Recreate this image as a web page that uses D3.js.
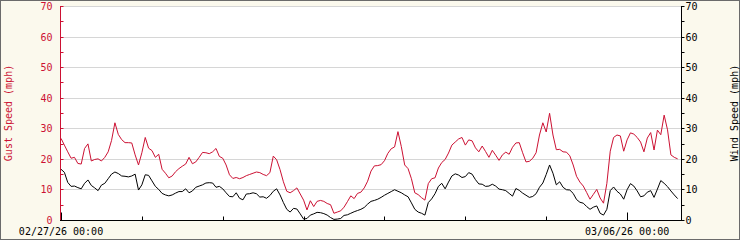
<!DOCTYPE html>
<html>
<head>
<meta charset="utf-8">
<script src="https://cdn.jsdelivr.net/npm/d3@7"></script>
<style>
    html, body { margin: 0; padding: 0; background: #fbf9ed; }
    #chart { width: 740px; height: 240px; }
    text { font-family: "DejaVu Sans Mono", monospace; font-size: 10px; }
</style>
</head>
<body>
<div id="chart"></div>
<script>
/**
 * Gust / wind speed chart, hourly samples from 02/27/26 00:00
 */

// First sample of the series
var startTime = new Date(2026, 1, 27, 0, 0);
// Hours shown on the time axis
var spanHours = 184;

// Gust speed (mph), one value per hour
var gustSpeed = [
    26.7, 24.5, 22.3, 20.2, 20.5, 18.5, 18.3, 23.4, 24.9, 19.3, 19.8, 20.0,
    19.3, 20.5, 22.3, 26.0, 31.8, 28.0, 26.3, 25.3, 25.3, 25.2, 21.3, 18.0,
    22.0, 27.0, 23.5, 22.7, 20.5, 21.5, 16.6, 15.3, 13.8, 14.4, 15.8, 16.8,
    17.6, 18.3, 20.5, 18.4, 19.0, 20.5, 22.1, 22.0, 21.7, 22.3, 23.4, 20.8,
    20.2, 18.0, 14.8, 13.6, 13.9, 13.5, 13.9, 14.5, 14.9, 15.3, 15.7, 15.5,
    14.9, 14.5, 15.5, 20.9, 19.7, 16.5, 12.5, 9.4, 8.9, 9.6, 10.5, 8.5,
    6.5, 3.3, 6.3, 4.4, 6.1, 6.4, 6.1, 5.4, 5.0, 2.2, 2.6, 3.0,
    4.2, 6.0, 7.9, 7.0, 8.7, 9.1, 10.5, 12.7, 16.0, 17.7, 17.8, 18.1,
    19.4, 21.8, 23.3, 23.9, 28.9, 24.0, 18.0, 16.8, 13.5, 8.9, 8.3, 7.3,
    6.5, 11.9, 13.5, 13.8, 17.0, 18.8, 19.8, 21.9, 24.5, 25.5, 26.5, 27.0,
    24.5, 26.2, 25.9, 23.6, 22.3, 24.2, 22.4, 20.5, 22.8, 21.2, 19.5, 21.3,
    22.2, 21.5, 23.8, 25.2, 25.3, 22.0, 19.0, 19.2, 20.2, 22.0, 27.8, 31.8,
    28.8, 34.9, 27.8, 23.0, 23.1, 22.3, 22.2, 21.0, 18.0, 14.3, 12.4, 11.1,
    9.0, 6.8, 8.4, 10.0, 7.2, 5.5, 12.0, 22.5, 27.0, 27.8, 27.5, 22.5,
    26.2, 28.5, 28.1, 27.0, 25.5, 22.3, 26.8, 28.6, 22.9, 29.4, 27.9, 34.3,
    29.5, 21.3, 20.5, 20.0
];

// Wind speed (mph), one value per hour
var windSpeed = [
    16.6, 15.6, 12.3, 11.0, 11.1, 10.6, 10.2, 12.0, 13.1, 11.3, 10.5, 9.6,
    11.4, 12.0, 13.5, 15.0, 15.7, 15.2, 14.4, 14.3, 14.1, 14.4, 15.0, 9.8,
    11.5, 14.8, 14.6, 12.8, 11.0, 10.0, 8.7, 8.2, 7.9, 8.2, 8.8, 9.3,
    9.3, 10.2, 8.9, 9.5, 10.7, 11.1, 11.5, 12.1, 12.2, 12.1, 10.7, 11.0,
    10.2, 8.9, 7.7, 7.6, 8.9, 7.1, 6.6, 8.5, 8.6, 8.9, 8.6, 7.5,
    7.6, 7.1, 8.0, 9.4, 10.2, 8.2, 5.7, 3.5, 2.6, 3.8, 3.6, 2.0,
    0.3, 0.5, 1.6, 2.0, 2.5, 2.4, 2.1, 1.6, 0.8, 0.2, 0.3, 0.5,
    1.5, 1.7, 2.2, 2.7, 3.1, 3.5, 4.1, 5.2, 6.1, 6.4, 6.8, 7.4,
    8.1, 8.7, 9.3, 9.9, 9.4, 8.9, 8.2, 7.6, 5.6, 3.5, 2.6, 2.2,
    1.6, 5.7, 6.9, 8.6, 11.0, 12.0, 10.2, 12.4, 14.4, 15.1, 14.7, 13.9,
    14.2, 15.5, 15.0, 13.2, 11.8, 11.7, 11.0, 11.1, 11.7, 11.1, 10.1, 9.9,
    9.6, 8.7, 7.8, 10.3, 9.7, 8.8, 8.1, 7.4, 7.7, 8.6, 10.7, 12.1,
    14.9, 18.0, 15.3, 11.5, 12.5, 10.7, 9.9, 9.8, 8.7, 6.7, 5.8, 5.5,
    4.4, 3.5, 4.2, 4.6, 2.2, 1.6, 3.5, 9.6, 10.8, 9.4, 8.5, 6.8,
    9.9, 11.9, 11.1, 9.5, 7.6, 7.9, 9.1, 9.6, 7.4, 10.1, 12.9, 12.0,
    10.9, 9.5, 8.2, 7.0
];

// Speed axis ticks (both axes share them)
var speedTicks = [0, 10, 20, 30, 40, 50, 60, 70];
var speedMinorTicks = [5, 15, 25, 35, 45, 55, 65];

// Axis titles
var leftTitle = "Gust Speed (mph)";
var rightTitle = "Wind Speed (mph)";

var windChart = function () {

    var exports = {},
        width = 740,
        height = 240,
        margin = { top: 6, right: 59, bottom: 20, left: 61 },
        plotWidth = width - margin.left - margin.right,
        plotHeight = height - margin.top - margin.bottom,
        // red for gusts, black for wind
        gustColour = '#cc1133',
        windColour = '#000000',
        gridColour = '#d6d6d6',
        pageColour = '#fbf9ed',
        svg = null;

    exports.draw = function () {

        var x = d3.scaleTime()
            .domain([startTime, d3.timeHour.offset(startTime, spanHours)])
            .range([0, plotWidth]);
        var yGust = d3.scaleLinear().domain([0, 70]).range([plotHeight, 0]);
        var yWind = d3.scaleLinear().domain([0, 70]).range([plotHeight, 0]);

        var timeOf = function (i) { return d3.timeHour.offset(startTime, i); };

        var root = d3.select("#chart").append("svg")
            .attr("width", width)
            .attr("height", height);

        // page background and frame
        root.append("rect")
            .attr("x", 0.5).attr("y", 0.5)
            .attr("width", width - 1).attr("height", height - 1)
            .style("fill", pageColour)
            .style("stroke", "#6b6b6b");

        svg = root.append("g")
            .attr("transform", "translate(" + margin.left + "," + margin.top + ")");

        // plot area
        svg.append("rect")
            .attr("width", plotWidth)
            .attr("height", plotHeight)
            .style("fill", "#ffffff");

        // horizontal grid
        svg.selectAll("line.grid")
            .data(speedTicks.slice(1))
            .enter().append("line")
            .attr("class", "grid")
            .attr("x1", 0).attr("x2", plotWidth)
            .attr("y1", function (d) { return Math.round(yGust(d)) + 0.5; })
            .attr("y2", function (d) { return Math.round(yGust(d)) + 0.5; })
            .style("stroke", gridColour)
            .style("shape-rendering", "crispEdges");

        // series lines
        var gustLine = d3.line()
            .x(function (d, i) { return x(timeOf(i)); })
            .y(function (d) { return yGust(d); });
        var windLine = d3.line()
            .x(function (d, i) { return x(timeOf(i)); })
            .y(function (d) { return yWind(d); });

        svg.append("path")
            .datum(gustSpeed)
            .attr("d", gustLine)
            .style("fill", "none")
            .style("stroke", gustColour)
            .style("stroke-width", 1);

        svg.append("path")
            .datum(windSpeed)
            .attr("d", windLine)
            .style("fill", "none")
            .style("stroke", windColour)
            .style("stroke-width", 1);

        // left (gust) axis
        var left = svg.append("g").attr("transform", "translate(-0.5,0)");
        left.append("line")
            .attr("x1", 0).attr("x2", 0)
            .attr("y1", 0).attr("y2", plotHeight)
            .style("stroke", gustColour);
        left.selectAll("line.minor")
            .data(speedMinorTicks.concat(speedTicks))
            .enter().append("line")
            .attr("x1", 0).attr("x2", 3)
            .attr("y1", function (d) { return Math.round(yGust(d)) + 0.5; })
            .attr("y2", function (d) { return Math.round(yGust(d)) + 0.5; })
            .style("stroke", gustColour);
        left.selectAll("text")
            .data(speedTicks)
            .enter().append("text")
            .attr("x", -8)
            .attr("y", function (d) { return yGust(d) + 4; })
            .attr("text-anchor", "end")
            .style("fill", gustColour)
            .text(function (d) { return d; });

        // right (wind) axis
        var right = svg.append("g").attr("transform", "translate(" + (plotWidth + 0.5) + ",0)");
        right.append("line")
            .attr("x1", 0).attr("x2", 0)
            .attr("y1", 0).attr("y2", plotHeight)
            .style("stroke", windColour);
        right.selectAll("line.minor")
            .data(speedMinorTicks.concat(speedTicks))
            .enter().append("line")
            .attr("x1", 0).attr("x2", 3)
            .attr("y1", function (d) { return Math.round(yWind(d)) + 0.5; })
            .attr("y2", function (d) { return Math.round(yWind(d)) + 0.5; })
            .style("stroke", windColour);
        right.selectAll("text")
            .data(speedTicks)
            .enter().append("text")
            .attr("x", 4)
            .attr("y", function (d) { return yWind(d) + 4; })
            .style("fill", windColour)
            .text(function (d) { return d; });

        // bottom time axis, labelled at the first and the last day tick
        var days = x.ticks(d3.timeDay.every(1));
        var fmt = d3.timeFormat("%m/%d/%y %H:%M");
        var bottom = svg.append("g").attr("transform", "translate(0," + (plotHeight + 0.5) + ")");
        bottom.append("line")
            .attr("x1", -1).attr("x2", plotWidth + 1)
            .style("stroke", "#000");
        bottom.selectAll("line.tick")
            .data(days)
            .enter().append("line")
            .attr("x1", function (d) { return Math.round(x(d)) + 0.5; })
            .attr("x2", function (d) { return Math.round(x(d)) + 0.5; })
            .attr("y1", 0)
            .attr("y2", function (d, i) { return (i === 0 || i === days.length - 1) ? -8 : -4; })
            .style("stroke", "#000");
        bottom.selectAll("text")
            .data([days[0], days[days.length - 1]])
            .enter().append("text")
            .attr("x", function (d) { return x(d); })
            .attr("y", 14)
            .attr("text-anchor", "middle")
            .style("fill", "#000")
            .text(function (d) { return fmt(d); });

        // axis titles
        root.append("text")
            .attr("transform", "translate(12," + (margin.top + plotHeight / 2) + ") rotate(-90)")
            .attr("text-anchor", "middle")
            .style("fill", gustColour)
            .text(leftTitle);
        root.append("text")
            .attr("transform", "translate(738," + (margin.top + plotHeight / 2) + ") rotate(-90)")
            .attr("text-anchor", "middle")
            .style("fill", windColour)
            .text(rightTitle);

        return exports;
    };

    return exports;
};

windChart().draw();
</script>
</body>
</html>
